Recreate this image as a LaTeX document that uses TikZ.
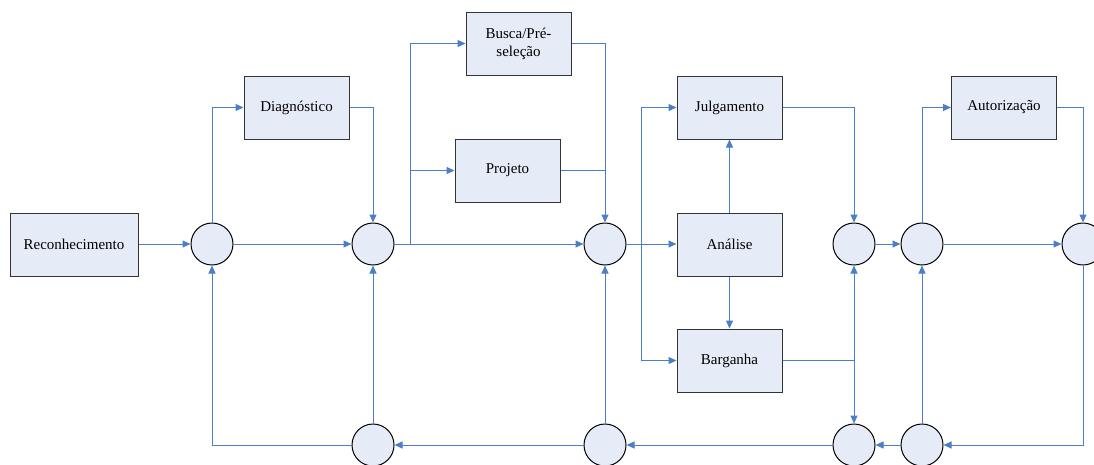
\documentclass[tikz,border=0pt]{standalone}
\usepackage{fontspec}
\setmainfont{Liberation Serif}
\usetikzlibrary{arrows.meta}
\definecolor{linkblue}{HTML}{4A7EC6}
\definecolor{boxfill}{HTML}{E6ECF7}
\begin{document}
\begin{tikzpicture}[x=1pt,y=-1pt,
  stage/.style={draw=black!80, line width=1pt, fill=boxfill,
    minimum width=105pt, minimum height=63pt, inner sep=0pt,
    font=\fontsize{15}{18}\selectfont, align=center},
  junction/.style={circle, draw=black, line width=1pt, fill=boxfill,
    minimum size=42pt, inner sep=0pt},
  link/.style={draw=linkblue, line width=1pt},
  flow/.style={link, -{Triangle[length=8pt,width=7pt]}}]
\useasboundingbox (0,0) rectangle (1094,464);
\clip (0,0) rectangle (1094,464);

% process stages
\node[stage, minimum width=128pt] (rec) at (74,244.5) {Reconhecimento};
\node[stage] (diag) at (296.5,107.5) {Diagnóstico};
\node[stage] (busca) at (518.5,43.5) {Busca/Pré-\\seleção};
\node[stage] (proj) at (507.5,170.5) {Projeto};
\node[stage] (jul) at (729.5,107.5) {Julgamento};
\node[stage] (ana) at (729.5,244.5) {Análise};
\node[stage] (barg) at (729.5,360.5) {Barganha};
\node[stage] (aut) at (1004,107.5) {Autorização};

% decision points on the main line
\node[junction] (c1) at (212,244) {};
\node[junction] (c2) at (373,244) {};
\node[junction] (c3) at (605,244) {};
\node[junction] (c4) at (854,244) {};
\node[junction] (c5) at (922,244) {};
\node[junction] (c6) at (1083,244) {};

% decision points on the return line
\node[junction] (b1) at (373,445) {};
\node[junction] (b2) at (605,445) {};
\node[junction] (b3) at (854,445) {};
\node[junction] (b4) at (922,445) {};

% branching points
\coordinate (j1) at (410,244);
\coordinate (j2) at (641,244);
\coordinate (j3) at (barg.east -| c4);

% forward flow
\draw[flow] (rec.east |- c1) -- (c1);
\draw[flow] (c1) -- (c2);
\draw[flow] (c1.north) |- (diag.west);
\draw[flow] (diag.east) -| (c2.north);
\draw[flow] (c2) -- (c3);
\draw[flow] (j1) |- (busca.west);
\draw[flow] (j1) |- (proj.west);
\draw[flow] (busca.east) -| (c3.north);
\draw[link] (proj.east) -- (proj.east -| c3);
\draw[flow] (c3) -- (ana.west |- c3);
\draw[flow] (j2) |- (jul.west);
\draw[flow] (j2) |- (barg.west);
\draw[flow] (ana) -- (jul);
\draw[flow] (ana) -- (barg);
\draw[flow] (jul.east) -| (c4.north);
\draw[link] (barg.east) -- (j3);
\draw[flow] (j3) -- (c4.south);
\draw[flow] (j3) -- (b3.north);
\draw[flow] (c4) -- (c5);
\draw[flow] (c5.north) |- (aut.west);
\draw[flow] (aut.east) -| (c6.north);
\draw[flow] (c5) -- (c6);

% return flow
\draw[flow] (c6.south) |- (b4.east);
\draw[flow] (b4.north) -- (c5.south);
\draw[flow] (b4) -- (b3);
\draw[flow] (b3) -- (b2);
\draw[flow] (b2.north) -- (c3.south);
\draw[flow] (b2) -- (b1);
\draw[flow] (b1.north) -- (c2.south);
\draw[flow] (b1.west) -| (c1.south);
\end{tikzpicture}
\end{document}
